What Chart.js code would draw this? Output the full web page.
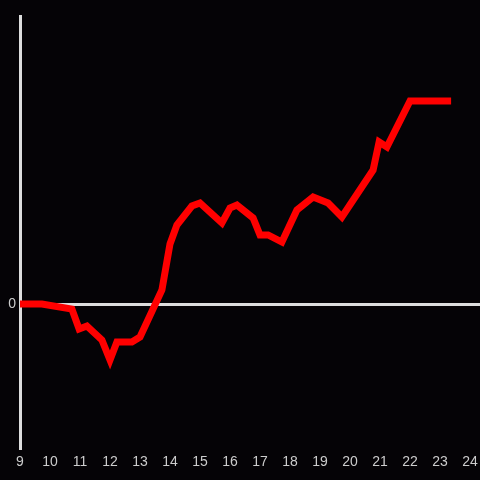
<!DOCTYPE html>
<html>
<head>
<meta charset="utf-8">
<script src="https://cdn.jsdelivr.net/npm/chart.js@4/dist/chart.umd.min.js"></script>
<style>
  html, body { margin: 0; padding: 0; background: #050306; }
  #wrap { width: 480px; height: 480px; }
</style>
</head>
<body>
<div id="wrap"><canvas id="chart"></canvas></div>
<script>
// hour of day (decimal) and value
let hours = [9.0, 9.73, 10.73, 10.97, 11.23, 11.73, 12.0, 12.23, 12.73, 13.0, 13.73, 14.0, 14.23, 14.73, 15.0,
    15.73, 16.0, 16.23, 16.77, 17.0, 17.27, 17.73, 18.23, 18.77, 19.27, 19.73, 20.77, 20.97, 21.23, 22.0, 23.37];
let values = [0, 0, -5, -25, -22, -36, -56, -38, -38, -33, 14, 60, 79, 98, 101,
    81, 96, 99, 86, 69, 69, 62, 94, 107, 101, 87, 134, 162, 157, 203, 203];
let xTicks = [9, 10, 11, 12, 13, 14, 15, 16, 17, 18, 19, 20, 21, 22, 23, 24];
let yTicks = [0];

let points = hours.map((h, i) => ({ x: h, y: values[i] }));

let ctx = document.getElementById("chart").getContext("2d");
new Chart(ctx, {
    type: "line",
    data: {
        datasets: [
            {
                data: points,
                borderColor: "#ff0000",
                borderWidth: 7,
                pointRadius: 0,
                tension: 0,
                fill: false
            }
        ]
    },
    options: {
        responsive: true,
        maintainAspectRatio: false,
        animation: false,
        layout: { padding: { top: 16, left: 0, right: 0, bottom: 0 } },
        plugins: {
            legend: { display: false },
            tooltip: { enabled: false }
        },
        scales: {
            x: {
                type: "linear",
                min: 9,
                max: 24.333,
                afterBuildTicks: (scale) => {
                    scale.ticks = xTicks.map((v) => ({ value: v }));
                },
                afterFit: (scale) => {
                    scale.height = 32;
                    scale.paddingLeft = 0;
                    scale.paddingRight = 0;
                },
                grid: { display: false, drawTicks: false },
                border: { display: false },
                ticks: {
                    color: "#cccccc",
                    font: { size: 14 },
                    padding: 6,
                    maxRotation: 0,
                    autoSkip: false
                }
            },
            y: {
                min: -144,
                max: 288,
                afterBuildTicks: (scale) => {
                    scale.ticks = yTicks.map((v) => ({ value: v }));
                },
                afterFit: (scale) => { scale.width = 20; },
                grid: {
                    drawTicks: false,
                    color: "#dddddd",
                    lineWidth: 3
                },
                border: { display: true, color: "#dddddd", width: 3 },
                ticks: {
                    color: "#cccccc",
                    font: { size: 14 },
                    padding: 4
                }
            }
        }
    }
});
</script>
</body>
</html>
